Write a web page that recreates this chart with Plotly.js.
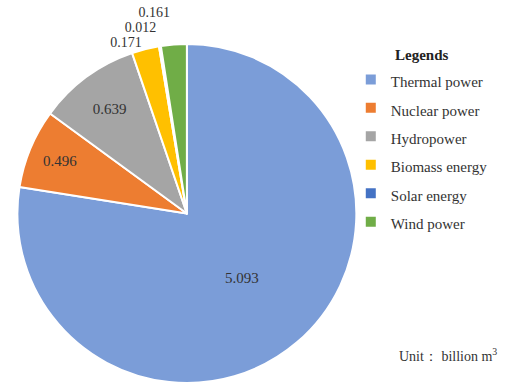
<!DOCTYPE html>
<html>
<head>
<meta charset="utf-8">
<script src="https://cdn.plot.ly/plotly-3.0.1.min.js"></script>
<style>
path.textline{display:none !important;}
</style>
</head>
<body style="margin:0">
<div id="chart" style="width:522px;height:383px"></div>
<script>
var categories = ["Thermal power", "Nuclear power", "Hydropower", "Biomass energy", "Solar energy", "Wind power"];
var values = [5.093, 0.496, 0.639, 0.171, 0.012, 0.161];
var valueLabels = ["5.093", "0.496", "0.639", "0.171", "0.012", "0.161"];
var colors = ["#7B9DD8", "#ED7D31", "#A5A5A5", "#FFC000", "#4472C4", "#70AD47"];
var textPositions = ["inside", "inside", "inside", "outside", "outside", "outside"];

var SERIF = "Liberation Serif, serif";

var legendLabels = categories.map(function (c) {
  return '<span style="font-size:15px">' + c + '</span>';
});

var trace = {
  type: "pie",
  labels: legendLabels,
  values: values,
  text: valueLabels,
  textinfo: "text",
  textposition: textPositions,
  insidetextorientation: "horizontal",
  sort: false,
  direction: "clockwise",
  rotation: 0,
  marker: { colors: colors, line: { color: "#ffffff", width: 2 } },
  textfont: { family: SERIF, size: 15, color: "#333333" },
  insidetextfont: { family: SERIF, size: 15, color: "#333333" },
  outsidetextfont: { family: SERIF, size: 14, color: "#333333" },
  automargin: false,
  domain: { x: [0.023, 0.693], y: [0, 0.885] },
  hoverinfo: "value"
};

var layout = {
  width: 522,
  height: 383,
  margin: { l: 0, r: 0, t: 0, b: 0 },
  paper_bgcolor: "#ffffff",
  showlegend: true,
  legend: {
    x: 0.672, xanchor: "left",
    y: 0.955, yanchor: "top",
    font: { family: SERIF, size: 19.6, color: "#333333" },
    title: { text: '<span style="font-size:15px"><b>Legends</b></span>', side: "top center", font: { family: SERIF, size: 33, color: "#222222" } },
    bgcolor: "rgba(0,0,0,0)",
    itemwidth: 30,
    itemclick: false
  },
  annotations: [{
    text: "Unit： billion m<sup>3</sup>",
    xref: "paper", yref: "paper",
    x: 0.955, xanchor: "right",
    y: 0.073, yanchor: "middle",
    showarrow: false,
    font: { family: SERIF, size: 14, color: "#333333" }
  }]
};

Plotly.newPlot("chart", [trace], layout, { displayModeBar: false, staticPlot: true });
</script>
</body>
</html>
